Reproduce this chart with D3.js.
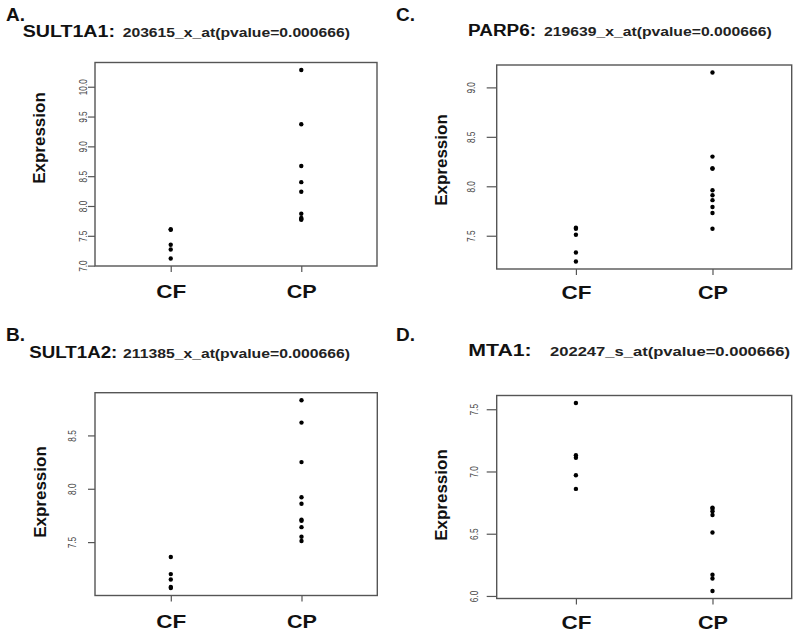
<!DOCTYPE html>
<html lang="en">
<head>
<meta charset="utf-8">
<title>Expression strip charts: SULT1A1, SULT1A2, PARP6, MTA1</title>
<script src="https://cdn.jsdelivr.net/npm/d3@7"></script>
<style>
  body { margin: 0; background: #fff; }
  svg { display: block; }
  text { font-family: "Liberation Sans", Arial, sans-serif; }
  .letter { font-size: 19px; font-weight: bold; fill: #111; }
  .gene { font-size: 16px; font-weight: bold; fill: #111; }
  .probe { font-size: 12px; font-weight: bold; fill: #222; }
  .ylab { font-size: 17px; font-weight: bold; fill: #111; text-anchor: middle; }
  .frame { fill: none; stroke: #555; stroke-width: 1.4px; }
  .y.axis line, .x.axis line { stroke: #555; stroke-width: 1.2px; }
  .y.axis text { font-size: 11px; fill: #444; }
  .x.axis text { font-size: 19px; font-weight: bold; fill: #111; }
  .dot { fill: #000; }
</style>
</head>
<body>
<div id="chart"></div>
<script>

// groups on the x axis
var groups = ["CF", "CP"];

// expression values
var sult1a1CF = [7.60, 7.61, 7.35, 7.27, 7.12];
var sult1a1CP = [10.28, 9.37, 8.67, 8.40, 8.24, 7.87, 7.80, 7.78, 7.77];
var sult1a2CF = [7.36, 7.20, 7.15, 7.08, 7.07];
var sult1a2CP = [8.83, 8.62, 8.25, 7.92, 7.86, 7.71, 7.70, 7.64, 7.55, 7.51];
var parp6CF = [7.58, 7.57, 7.51, 7.33, 7.24];
var parp6CP = [9.15, 8.30, 8.18, 8.18, 7.96, 7.91, 7.86, 7.79, 7.73, 7.57];
var mta1CF = [7.55, 7.13, 7.11, 6.97, 6.86];
var mta1CP = [6.71, 6.70, 6.68, 6.65, 6.51, 6.17, 6.14, 6.04];

// y tick values
var ticksA = [7.0, 7.5, 8.0, 8.5, 9.0, 9.5, 10.0];
var ticksB = [7.5, 8.0, 8.5];
var ticksC = [7.5, 8.0, 8.5, 9.0];
var ticksD = [6.0, 6.5, 7.0, 7.5];

// panel texts
var letters = ["A.", "B.", "C.", "D."];
var genes = ["SULT1A1:", "SULT1A2:", "PARP6:", "MTA1:"];
var probes = ["203615_x_at(pvalue=0.000666)", "211385_x_at(pvalue=0.000666)",
              "219639_x_at(pvalue=0.000666)", "202247_s_at(pvalue=0.000666)"];
var yTitle = "Expression";

var width = 800, height = 640;

// layout of each panel (page pixels)
var panels = [
  {i: 0, cf: sult1a1CF, cp: sult1a1CP, ticks: ticksA,
   letterX: 6, letterY: 21, geneX: [22.7, 115], probeX: [122.7, 350], titleY: 37,
   box: [95, 62.5, 377, 266], tickLen: 7, labelGap: 8.5, ylabX: 45, ylabY: 138, xlabY: 298},
  {i: 1, cf: sult1a2CF, cp: sult1a2CP, ticks: ticksB,
   letterX: 6, letterY: 341, geneX: [29.3, 117.3], probeX: [123, 350], titleY: 358,
   box: [95, 392.7, 377.3, 595.5], tickLen: 7, labelGap: 19, ylabX: 46, ylabY: 492, xlabY: 628},
  {i: 2, cf: parp6CF, cp: parp6CP, ticks: ticksC,
   letterX: 396, letterY: 21, geneX: [468, 536], probeX: [544, 771.7], titleY: 36,
   box: [496.7, 65, 791.7, 269], tickLen: 10, labelGap: 22, ylabX: 447, ylabY: 160, xlabY: 299},
  {i: 3, cf: mta1CF, cp: mta1CP, ticks: ticksD,
   letterX: 396, letterY: 341, geneX: [468.3, 531.7], probeX: [550, 790], titleY: 356,
   box: [496.7, 395.5, 791.7, 598.5], tickLen: 10, labelGap: 19, ylabX: 447, ylabY: 495, xlabY: 629}
];

var svg = d3.select("#chart").append("svg")
    .attr("width", width)
    .attr("height", height);

panels.forEach(function(p) {
  var x0 = p.box[0], y0 = p.box[1], x1 = p.box[2], y1 = p.box[3];
  var all = p.cf.concat(p.cp);
  var ext = d3.extent(all);
  var pad = (ext[1] - ext[0]) * 0.04;   // R's default axis extension

  var xScale = d3.scalePoint()
      .domain(groups)
      .range([x0, x1])
      .padding(0.58);

  var yScale = d3.scaleLinear()
      .domain([ext[0] - pad, ext[1] + pad])
      .range([y1, y0]);

  // panel letter and title
  svg.append("text").attr("class", "letter")
     .attr("x", p.letterX).attr("y", p.letterY)
     .text(letters[p.i]);

  svg.append("text").attr("class", "gene")
     .attr("x", p.geneX[0]).attr("y", p.titleY)
     .attr("textLength", p.geneX[1] - p.geneX[0])
     .attr("lengthAdjust", "spacingAndGlyphs")
     .text(genes[p.i]);

  svg.append("text").attr("class", "probe")
     .attr("x", p.probeX[0]).attr("y", p.titleY)
     .attr("textLength", p.probeX[1] - p.probeX[0])
     .attr("lengthAdjust", "spacingAndGlyphs")
     .text(probes[p.i]);

  // y axis
  var yAxis = d3.axisLeft(yScale)
      .tickValues(p.ticks)
      .tickFormat(d3.format(".1f"))
      .tickSizeInner(p.tickLen)
      .tickSizeOuter(0);

  var ya = svg.append("g")
      .attr("class", "y axis")
      .attr("transform", "translate(" + x0 + ",0)")
      .call(yAxis);
  ya.select(".domain").remove();
  ya.selectAll(".tick text")
    .attr("x", 0)
    .attr("y", -p.labelGap)
    .attr("dy", 0)
    .attr("transform", "rotate(-90)")
    .style("text-anchor", "middle")
    .each(function() {
      var len = this.getComputedTextLength();
      d3.select(this).attr("textLength", len * 0.75).attr("lengthAdjust", "spacingAndGlyphs");
    });

  // x axis
  var xAxis = d3.axisBottom(xScale)
      .tickSizeInner(6)
      .tickSizeOuter(0);

  var xa = svg.append("g")
      .attr("class", "x axis")
      .attr("transform", "translate(0," + y1 + ")")
      .call(xAxis);
  xa.select(".domain").remove();
  xa.selectAll(".tick text")
    .attr("y", p.xlabY - y1)
    .attr("dy", 0)
    .attr("textLength", 30)
    .attr("lengthAdjust", "spacingAndGlyphs");

  // y title
  svg.append("text").attr("class", "ylab")
     .attr("transform", "translate(" + p.ylabX + "," + p.ylabY + ") rotate(-90)")
     .text(yTitle);

  // frame
  svg.append("rect").attr("class", "frame")
     .attr("x", x0).attr("y", y0)
     .attr("width", x1 - x0).attr("height", y1 - y0);

  // points
  var pts = p.cf.map(function(v) { return {g: "CF", v: v}; })
      .concat(p.cp.map(function(v) { return {g: "CP", v: v}; }));

  svg.append("g").selectAll("circle")
     .data(pts)
     .enter().append("circle")
     .attr("class", "dot")
     .attr("cx", function(d) { return xScale(d.g); })
     .attr("cy", function(d) { return yScale(d.v); })
     .attr("r", 2.2);
});

</script>
</body>
</html>
